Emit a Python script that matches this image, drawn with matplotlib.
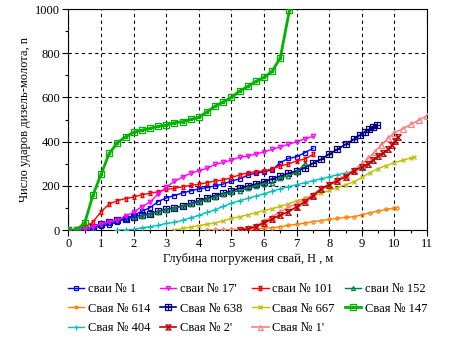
import matplotlib
matplotlib.use("Agg")
import matplotlib.pyplot as plt
from matplotlib.path import Path
from matplotlib.ticker import MultipleLocator

plt.rcParams['font.family'] = ['Liberation Serif', 'DejaVu Serif']
plt.rcParams['font.size'] = 9

# ---------------- data ----------------
x_147 = [0, 0.25, 0.5, 0.75, 1.0, 1.25, 1.5, 1.75, 2.0, 2.25, 2.5, 2.75, 3.0, 3.25,
         3.5, 3.75, 4.0, 4.25, 4.5, 4.75, 5.0, 5.25, 5.5, 5.75, 6.0, 6.25, 6.5, 6.78]
y_147 = [0, 0, 33, 158, 252, 347, 395, 422, 442, 452, 460, 469, 475, 486,
         490, 501, 510, 535, 561, 580, 600, 629, 650, 673, 691, 719, 781, 995]

x_101 = [0, 0.25, 0.5, 0.75, 1.0, 1.25, 1.5, 1.75, 2.0, 2.25, 2.5, 2.75, 3.0, 3.25, 3.5, 3.75,
         4.0, 4.25, 4.5, 4.75, 5.0, 5.25, 5.5, 5.75, 6.0, 6.25, 6.5, 6.75, 7.0, 7.25, 7.5]
y_101 = [0, 3, 12, 37, 83, 118, 133, 142, 149, 160, 166, 173, 184, 188, 196, 202,
         207, 214, 222, 226, 238, 249, 259, 264, 268, 276, 290, 299, 313, 321, 342]

x_17 = [0, 0.25, 0.5, 0.75, 1.0, 1.25, 1.5, 1.75, 2.0, 2.25, 2.5, 2.75, 3.0, 3.25, 3.5, 3.75,
        4.0, 4.25, 4.5, 4.75, 5.0, 5.25, 5.5, 5.75, 6.0, 6.25, 6.5, 6.75, 7.0, 7.25, 7.5]
y_17 = [0, 2, 6, 14, 28, 38, 45, 63, 80, 106, 126, 163, 194, 220, 240, 257,
        268, 279, 297, 306, 317, 329, 335, 344, 354, 365, 376, 388, 400, 412, 424]

x_1 = [0, 0.25, 0.5, 0.75, 1.0, 1.25, 1.5, 1.75, 2.0, 2.25, 2.5, 2.75, 3.0, 3.25, 3.5, 3.75,
       4.0, 4.25, 4.5, 4.75, 5.0, 5.25, 5.5, 5.75, 6.0, 6.25, 6.5, 6.75, 7.0, 7.25, 7.5]
y_1 = [0, 2, 8, 12, 18, 24, 38, 51, 66, 85, 101, 129, 145, 156, 168, 177,
       186, 192, 200, 208, 222, 231, 249, 257, 264, 272, 305, 324, 332, 350, 370]

x_638 = [0, 0.25, 0.5, 0.75, 1.0, 1.25, 1.5, 1.75, 2.0, 2.25, 2.5, 2.75, 3.0, 3.25, 3.5, 3.75,
         4.0, 4.25, 4.5, 4.75, 5.0, 5.25, 5.5, 5.75, 6.0, 6.25, 6.5, 6.75, 7.0, 7.25, 7.5,
         7.75, 8.0, 8.25, 8.5, 8.75, 8.94, 9.1, 9.23, 9.34, 9.46]
y_638 = [0, 0, 5, 12, 26, 38, 45, 50, 60, 66, 74, 85, 94, 100, 109, 121,
         132, 145, 156, 166, 177, 189, 199, 208, 219, 231, 244, 257, 267, 282, 302,
         320, 344, 365, 388, 410, 430, 445, 456, 465, 475]

x_152 = [0, 0.25, 0.5, 0.75, 1.0, 1.25, 1.5, 1.75, 2.0, 2.25, 2.5, 2.75, 3.0, 3.25, 3.5, 3.75,
         4.0, 4.25, 4.5, 4.75, 5.0, 5.25, 5.5, 5.75, 6.0, 6.25, 6.5, 6.75, 7.0, 7.27]
y_152 = [0, 0, 4, 8, 22, 35, 44, 50, 58, 64, 72, 83, 92, 98, 107, 118,
         128, 140, 150, 162, 172, 178, 190, 200, 210, 212, 235, 245, 262, 302]

x_404 = [1.5, 1.75, 2.0, 2.25, 2.5, 2.75, 3.0, 3.25, 3.5, 3.75, 4.0, 4.25, 4.5, 4.75, 5.0, 5.25,
         5.5, 5.75, 6.0, 6.25, 6.5, 6.75, 7.0, 7.25, 7.5, 7.75, 8.0, 8.25, 8.5, 8.75, 9.0, 9.1]
y_404 = [0, 0, 3, 10, 15, 21, 30, 35, 44, 56, 66, 80, 92, 107, 122, 133,
         143, 154, 164, 176, 187, 196, 205, 214, 223, 232, 241, 250, 258, 267, 278, 284]

x_667 = [3.25, 3.5, 3.75, 4.0, 4.25, 4.5, 4.75, 5.0, 5.25, 5.5, 5.75, 6.0, 6.25, 6.5, 6.75, 7.0,
         7.25, 7.5, 7.75, 8.0, 8.25, 8.5, 8.75, 9.0, 9.25, 9.5, 9.75, 10.0, 10.25, 10.5, 10.6]
y_667 = [0, 7, 13, 20, 26, 32, 42, 53, 60, 69, 78, 88, 97, 107, 118, 133,
         143, 153, 166, 180, 192, 205, 218, 238, 260, 278, 292, 305, 316, 326, 330]

x_614 = [4.25, 4.5, 4.75, 5.0, 5.25, 5.5, 5.75, 6.0, 6.25, 6.5, 6.75, 7.0, 7.25, 7.5, 7.75, 8.0,
         8.25, 8.5, 8.75, 9.0, 9.25, 9.5, 9.75, 10.0, 10.07]
y_614 = [0, 0, 1, 2, 3, 5, 6, 8, 11, 15, 21, 26, 31, 38, 43, 48,
         53, 57, 60, 69, 78, 86, 93, 99, 101]

x_2p = [5.25, 5.5, 5.75, 6.0, 6.25, 6.5, 6.75, 7.0, 7.25, 7.5, 7.75, 8.0, 8.25, 8.5, 8.75, 9.0,
        9.2, 9.35, 9.5, 9.66, 9.81, 9.92, 10.02, 10.12]
y_2p = [0, 5, 15, 33, 50, 68, 83, 105, 128, 155, 185, 205, 222, 242, 268, 286,
        300, 317, 335, 350, 365, 385, 404, 422]

x_1p = [4.5, 4.75, 5.0, 5.25, 5.5, 5.75, 6.0, 6.25, 6.5, 6.75, 7.0, 7.25, 7.5, 7.75, 8.0, 8.25,
        8.5, 8.75, 9.0, 9.2, 9.4, 9.6, 9.8, 10.0, 10.25, 10.5, 10.75, 11.0]
y_1p = [0, 0, 0, 3, 8, 18, 40, 60, 83, 103, 121, 139, 160, 189, 208, 229,
        249, 271, 300, 324, 355, 385, 415, 440, 458, 478, 497, 518]

# ---------------- markers ----------------
M, L, C = Path.MOVETO, Path.LINETO, Path.CLOSEPOLY
sq_cross = Path([(-1, -1), (1, -1), (1, 1), (-1, 1), (-1, -1),
                 (0, -1), (0, 1), (-1, 0), (1, 0)],
                [M, L, L, L, C, M, L, M, L])
sq_inner = Path([(-1, -1), (1, -1), (1, 1), (-1, 1), (-1, -1),
                 (-0.35, -0.35), (0.35, -0.35), (0.35, 0.35), (-0.35, 0.35), (-0.35, -0.35)],
                [M, L, L, L, C, M, L, L, L, C])
hourglass = Path([(-1, 1), (1, 1), (-1, -1), (1, -1), (-1, 1)],
                 [M, L, L, L, C])
ibeam = Path([(-1, 1), (1, 1), (-1, -1), (1, -1),
              (-0.6, -1), (0.6, -1), (0.6, 1), (-0.6, 1), (-0.6, -1)],
             [M, L, M, L, M, L, L, L, C])

fig = plt.figure(figsize=(4.52, 3.39), dpi=100)
ax = fig.add_axes([0.1515, 0.3215, 0.7932, 0.6515])

series = [
    ("сваи № 1", x_1, y_1, '#0000ff', 's', 2.8, 1.0),
    ("сваи № 17'", x_17, y_17, '#ff00ff', 'v', 3.2, 1.0),
    ("сваи № 101", x_101, y_101, '#ff0000', ibeam, 3.5, 1.0),
    ("сваи № 152", x_152, y_152, '#008040', '^', 3.2, 1.0),
    ("Свая № 614", x_614, y_614, '#ff8000', 'o', 2.3, 1.0),
    ("Свая № 638", x_638, y_638, '#000080', sq_cross, 4.3, 1.2),
    ("Свая № 667", x_667, y_667, '#c0c000', 'x', 3.2, 1.0),
    ("Свая № 147", x_147, y_147, '#00b400', sq_inner, 4.8, 2.0),
    ("Свая № 404", x_404, y_404, '#00c0c0', '+', 4.0, 1.0),
    ("Свая № 2'", x_2p, y_2p, '#c00000', hourglass, 4.0, 1.2),
    ("Свая № 1'", x_1p, y_1p, '#ff8080', '^', 4.0, 1.2),
]

handles = {}
order_draw = [4, 8, 6, 10, 9, 5, 3, 0, 2, 1, 7]
for i in order_draw:
    name, xs, ys, col, mk, ms, lw = series[i]
    h, = ax.plot(xs, ys, color=col, lw=lw, marker=mk, ms=ms, mfc='none',
                 mec=col, mew=0.9, label=name, zorder=3)
    handles[name] = h

ax.set_xlim(0, 11)
ax.set_ylim(0, 1000)
ax.xaxis.set_major_locator(MultipleLocator(1))
ax.xaxis.set_minor_locator(MultipleLocator(0.5))
ax.yaxis.set_major_locator(MultipleLocator(200))
ax.yaxis.set_minor_locator(MultipleLocator(100))
ax.tick_params(which='major', direction='out', length=4, width=0.8, labelsize=9, pad=2)
ax.tick_params(which='minor', direction='out', length=2.5, width=0.8)
ax.grid(True, which='major', color='black', linestyle=(0, (3, 3)), linewidth=0.8)
for s in ax.spines.values():
    s.set_linewidth(0.8)

ax.set_xlabel("Глубина погружения свай, Н , м", fontsize=9, labelpad=2)
ax.set_ylabel("Число ударов дизель-молота, n", fontsize=9, labelpad=3)

names_colmajor = ["сваи № 1", "Свая № 614", "Свая № 404",
                  "сваи № 17'", "Свая № 638", "Свая № 2'",
                  "сваи № 101", "Свая № 667", "Свая № 1'",
                  "сваи № 152", "Свая № 147"]
fig.legend([handles[n] for n in names_colmajor], names_colmajor, ncol=4,
           loc='upper left', bbox_to_anchor=(0.13, 0.19), frameon=False,
           fontsize=9, handlelength=1.3, handletextpad=0.3, columnspacing=0.8,
           labelspacing=0.6, borderpad=0.2, markerscale=0.9)

fig.savefig("out.png", dpi=100)
